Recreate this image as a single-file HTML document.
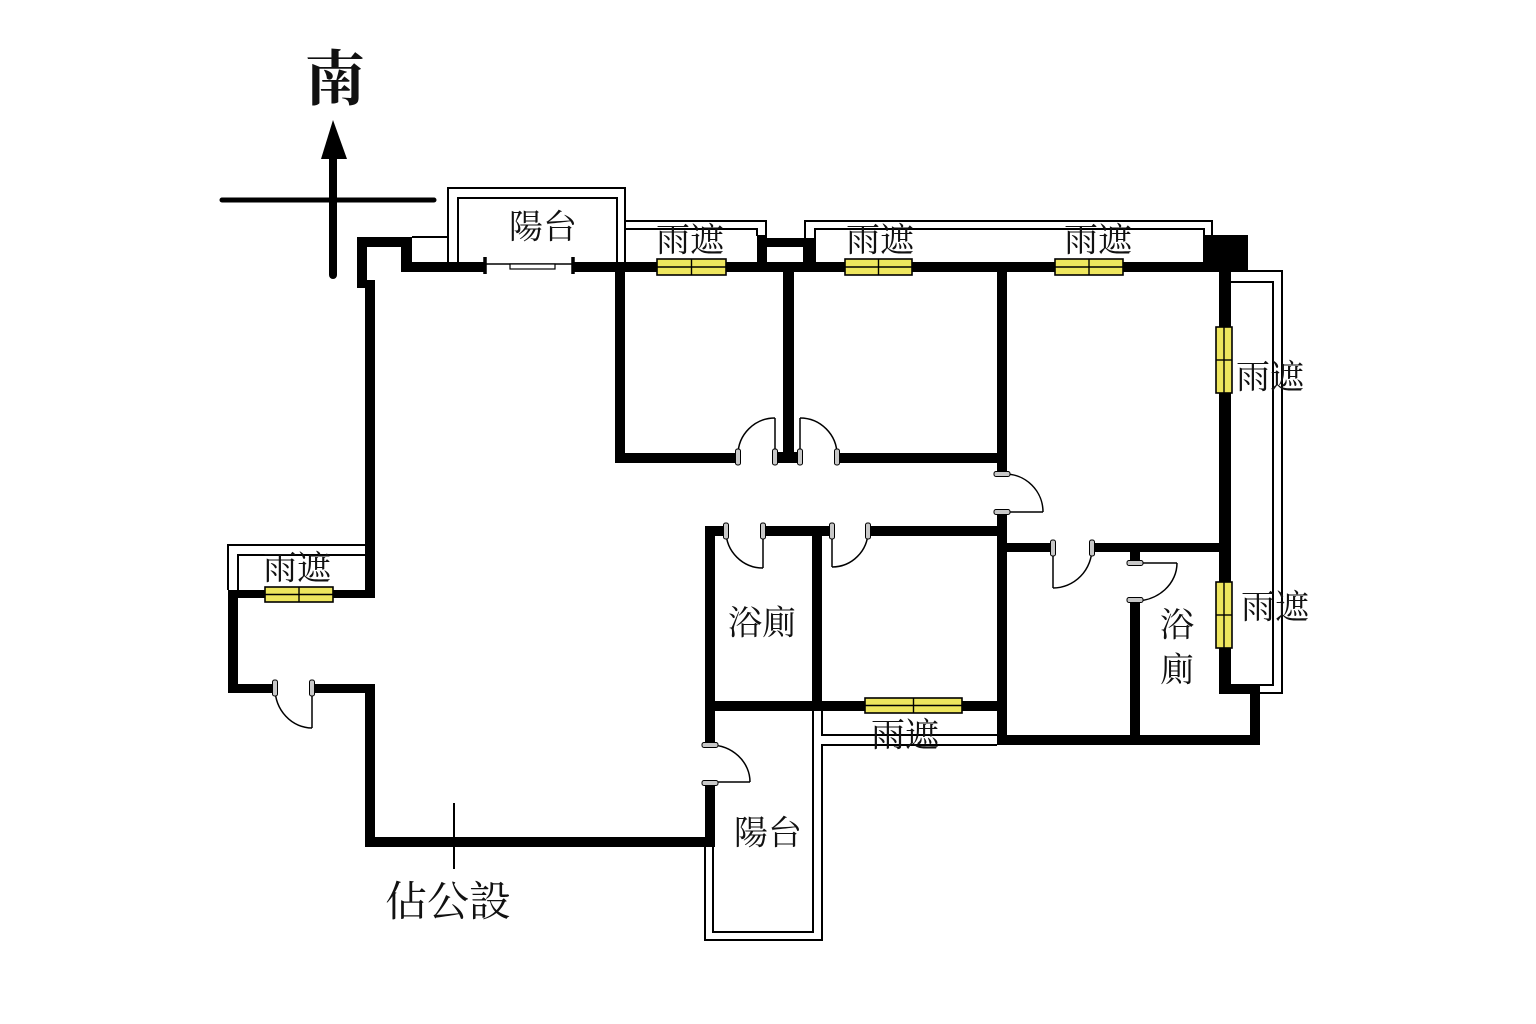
<!DOCTYPE html>
<html>
<head>
<meta charset="utf-8">
<style>
html,body{margin:0;padding:0;background:#fff;}
body{width:1536px;height:1024px;overflow:hidden;}
svg{display:block;}
.t{font-family:"Liberation Serif","Noto Serif CJK SC","Noto Serif CJK SC",serif;fill:#111;text-anchor:middle;dominant-baseline:central;}
</style>
</head>
<body>
<svg width="1536" height="1024" viewBox="0 0 1536 1024" xmlns="http://www.w3.org/2000/svg">
<rect width="1536" height="1024" fill="#fff"/>

<!-- Compass -->
<line x1="222" y1="200" x2="434" y2="200" stroke="#000" stroke-width="5" stroke-linecap="round"/>
<line x1="333" y1="152" x2="333" y2="275" stroke="#000" stroke-width="8" stroke-linecap="round"/>
<polygon points="333,120 321,159 347,159" fill="#000"/>
<text class="t" x="335" y="80" font-size="60" font-weight="700">南</text>

<!-- Thin outlines (balconies, canopies) -->
<g fill="none" stroke="#000" stroke-width="2">
  <path d="M448,262 V188 H625 V262"/>
  <path d="M458,262 V198 H617 V262"/>
  <path d="M412,237 H448"/>
  <path d="M625,221 H766 V238"/>
  <path d="M625,229 H757 V236"/>
  <path d="M805,238 V221 H1212 V236"/>
  <path d="M815,262 V229 H1204 V236"/>
  <path d="M1231,271 H1282 V693 H1260"/>
  <path d="M1231,282 H1273 V685 H1231"/>
  <path d="M228,590 V545 H365"/>
  <path d="M238,590 V555 H365"/>
  <path d="M813,711 V932 H713 V847"/>
  <path d="M822,711 V735 H997"/>
  <path d="M997,745 H822 V940 H705 V847"/>
  <path d="M454,803 V869"/>
</g>

<!-- Sliding door top -->
<g fill="none" stroke="#000">
  <line x1="485" y1="264" x2="573" y2="264" stroke-width="1.5"/>
  <rect x="510" y="264" width="45" height="5" stroke-width="1.2" fill="#fff"/>
  <line x1="485" y1="257" x2="485" y2="274" stroke-width="3.5"/>
  <line x1="573" y1="257" x2="573" y2="274" stroke-width="3.5"/>
</g>

<!-- Walls -->
<g fill="#000">
  <rect x="357" y="237" width="55" height="10"/>
  <rect x="357" y="237" width="10" height="51"/>
  <rect x="365" y="280" width="10" height="318"/>
  <rect x="401" y="237" width="11" height="35"/>
  <rect x="401" y="262" width="84" height="10"/>
  <rect x="573" y="262" width="658" height="10"/>
  <rect x="757" y="235" width="10" height="37"/>
  <rect x="757" y="238" width="58" height="9"/>
  <rect x="803" y="238" width="12" height="34"/>
  <rect x="1203" y="235" width="45" height="35"/>
  <rect x="1219" y="262" width="12" height="431"/>
  <rect x="1219" y="685" width="41" height="9"/>
  <rect x="1250" y="685" width="10" height="60"/>
  <rect x="997" y="735" width="263" height="10"/>
  <rect x="997" y="512" width="10" height="233"/>
  <rect x="997" y="272" width="10" height="201"/>
  <rect x="615" y="272" width="10" height="191"/>
  <rect x="615" y="453" width="123" height="10"/>
  <rect x="783" y="272" width="11" height="191"/>
  <rect x="777" y="452" width="23" height="11"/>
  <rect x="837" y="453" width="170" height="10"/>
  <rect x="1007" y="543" width="46" height="9"/>
  <rect x="1092" y="543" width="127" height="9"/>
  <rect x="1130" y="552" width="10" height="11"/>
  <rect x="1130" y="600" width="10" height="145"/>
  <rect x="705" y="526" width="21" height="10"/>
  <rect x="763" y="526" width="69" height="10"/>
  <rect x="868" y="526" width="132" height="10"/>
  <rect x="705" y="526" width="10" height="219"/>
  <rect x="812" y="526" width="10" height="185"/>
  <rect x="705" y="701" width="292" height="10"/>
  <rect x="705" y="783" width="10" height="64"/>
  <rect x="365" y="837" width="348" height="10"/>
  <rect x="365" y="684" width="10" height="163"/>
  <rect x="228" y="684" width="47" height="9"/>
  <rect x="312" y="684" width="63" height="9"/>
  <rect x="228" y="590" width="10" height="103"/>
  <rect x="228" y="590" width="147" height="8"/>
</g>

<!-- Doors -->
<g fill="none" stroke="#000" stroke-width="1.5">
  <path d="M775,455 V418"/><path d="M738,455 A37,37 0 0,1 775,418"/>
  <path d="M800,455 V418"/><path d="M800,418 A37,37 0 0,1 837,455"/>
  <path d="M1005,512 H1043"/><path d="M1005,474 A38,38 0 0,1 1043,512"/>
  <path d="M763,531 V568"/><path d="M726,531 A37,37 0 0,0 763,568"/>
  <path d="M832,531 V567"/><path d="M868,531 A36,36 0 0,1 832,567"/>
  <path d="M1053,548 V588"/><path d="M1053,588 A39,40 0 0,0 1092,548"/>
  <path d="M1135,563 H1177"/><path d="M1177,563 A42,38 0 0,1 1135,601"/>
  <path d="M710,782 H750"/><path d="M710,745 A40,37 0 0,1 750,782"/>
  <path d="M312,688 V728"/><path d="M275,688 A37,40 0 0,0 312,728"/>
</g>

<!-- Door jamb caps -->
<g fill="#c8c8c8" stroke="#000" stroke-width="1">
  <rect x="735.5" y="449" width="5" height="16" rx="2"/>
  <rect x="772.5" y="449" width="5" height="16" rx="2"/>
  <rect x="797.5" y="449" width="5" height="16" rx="2"/>
  <rect x="834.5" y="449" width="5" height="16" rx="2"/>
  <rect x="994" y="471.5" width="16" height="5" rx="2"/>
  <rect x="994" y="509.5" width="16" height="5" rx="2"/>
  <rect x="723.5" y="523" width="5" height="16" rx="2"/>
  <rect x="760.5" y="523" width="5" height="16" rx="2"/>
  <rect x="829.5" y="523" width="5" height="16" rx="2"/>
  <rect x="865.5" y="523" width="5" height="16" rx="2"/>
  <rect x="1050.5" y="540" width="5" height="16" rx="2"/>
  <rect x="1089.5" y="540" width="5" height="16" rx="2"/>
  <rect x="1127" y="560.5" width="16" height="5" rx="2"/>
  <rect x="1127" y="597.5" width="16" height="5" rx="2"/>
  <rect x="702" y="742.5" width="16" height="5" rx="2"/>
  <rect x="702" y="780.5" width="16" height="5" rx="2"/>
  <rect x="272.5" y="680" width="5" height="16" rx="2"/>
  <rect x="309.5" y="680" width="5" height="16" rx="2"/>
</g>

<!-- Windows -->
<g stroke="#000" stroke-width="1.6" fill="#eee65e">
  <rect x="657" y="259" width="69" height="16"/>
  <rect x="845" y="259" width="67" height="16"/>
  <rect x="1055" y="259" width="68" height="16"/>
  <rect x="265" y="587" width="68" height="15"/>
  <rect x="865" y="698" width="97" height="15"/>
  <rect x="1216" y="327" width="16" height="66"/>
  <rect x="1216" y="582" width="16" height="66"/>
</g>
<g stroke="#000" stroke-width="1.4">
  <line x1="691.5" y1="259" x2="691.5" y2="275"/><line x1="657" y1="267" x2="726" y2="267"/>
  <line x1="878.5" y1="259" x2="878.5" y2="275"/><line x1="845" y1="267" x2="912" y2="267"/>
  <line x1="1089" y1="259" x2="1089" y2="275"/><line x1="1055" y1="267" x2="1123" y2="267"/>
  <line x1="299" y1="587" x2="299" y2="602"/><line x1="265" y1="594.5" x2="333" y2="594.5"/>
  <line x1="913.5" y1="698" x2="913.5" y2="713"/><line x1="865" y1="705.5" x2="962" y2="705.5"/>
  <line x1="1224" y1="327" x2="1224" y2="393"/><line x1="1216" y1="360" x2="1232" y2="360"/>
  <line x1="1224" y1="582" x2="1224" y2="648"/><line x1="1216" y1="615" x2="1232" y2="615"/>
</g>

<!-- Labels -->
<text class="t" x="543" y="228" font-size="34">陽台</text>
<text class="t" x="690" y="241" font-size="34">雨遮</text>
<text class="t" x="880" y="241" font-size="34">雨遮</text>
<text class="t" x="1098" y="241" font-size="34">雨遮</text>
<text class="t" x="1270" y="378" font-size="34">雨遮</text>
<text class="t" x="1275" y="608" font-size="34">雨遮</text>
<text class="t" x="297" y="569" font-size="34">雨遮</text>
<text class="t" x="762" y="624" font-size="34">浴廁</text>
<text class="t" x="1177" y="626" font-size="34">浴</text>
<text class="t" x="1177" y="671" font-size="34">廁</text>
<text class="t" x="905" y="736" font-size="34">雨遮</text>
<text class="t" x="768" y="834" font-size="34">陽台</text>
<text class="t" x="448" y="903" font-size="42">佔公設</text>
</svg>
</body>
</html>
